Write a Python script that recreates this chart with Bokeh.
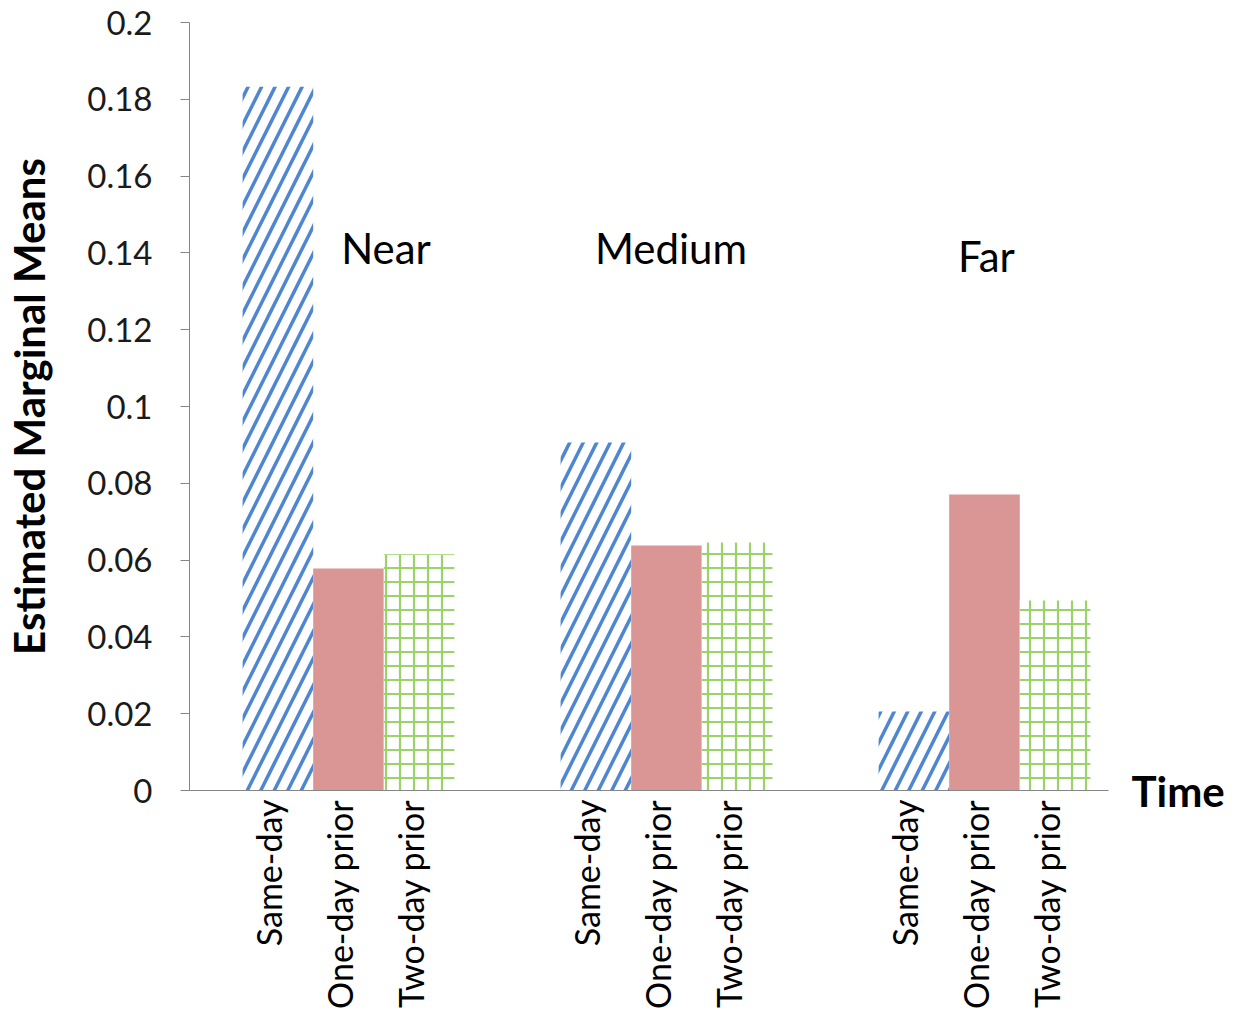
import math
from bokeh.plotting import figure
from bokeh.models import Range1d, FixedTicker, NumeralTickFormatter, Label, LinearAxis
from bokeh.embed import file_html
from bokeh.resources import INLINE

# Data
groups = ["Near", "Medium", "Far"]
times = ["Same-day", "One-day prior", "Two-day prior"]
same_day = [0.1833, 0.0906, 0.0206]
one_day_prior = [0.0578, 0.0638, 0.0771]
two_day_prior = [0.0615, 0.0646, 0.0495]
y_ticks = [0, 0.02, 0.04, 0.06, 0.08, 0.1, 0.12, 0.14, 0.16, 0.18, 0.2]

FONT = "Lato"
BAR_W = 0.222
offsets = [-BAR_W, 0.0, BAR_W]

p = figure(width=1235, height=1019, output_backend="svg", toolbar_location=None,
           x_range=Range1d(-0.5, 2.39), y_range=Range1d(0, 0.2),
           min_border_left=189, min_border_right=127, min_border_top=22,
           min_border_bottom=229)
p.outline_line_color = None
p.grid.visible = False
p.background_fill_color = "white"
p.border_fill_color = "white"

gx = list(range(len(groups)))

# Same-day: blue diagonal hatching
p.vbar(x=[g + offsets[0] for g in gx], top=same_day, width=BAR_W, bottom=0,
       fill_color="white", line_color=None,
       hatch_pattern="/", hatch_color="#4f86d2", hatch_weight=3.5, hatch_scale=27)
# One-day prior: solid rose
p.vbar(x=[g + offsets[1] for g in gx], top=one_day_prior, width=BAR_W, bottom=0,
       fill_color="#d99694", line_color=None)
# Two-day prior: green grid
p.vbar(x=[g + offsets[2] for g in gx], top=two_day_prior, width=BAR_W, bottom=0,
       fill_color="white", line_color=None,
       hatch_pattern="+", hatch_color="#9bd36a", hatch_weight=2.2, hatch_scale=14)

# Y axis
yax = p.yaxis[0]
yax.ticker = FixedTicker(ticks=y_ticks)
yax.formatter = NumeralTickFormatter(format="0.[00]")
yax.axis_line_color = "#868686"
yax.major_tick_line_color = "#868686"
yax.major_tick_out = 9
yax.major_tick_in = 0
yax.minor_tick_line_color = None
yax.major_label_text_font = FONT
yax.major_label_text_font_size = "33px"
yax.major_label_text_color = "#1a1a1a"
yax.major_label_standoff = 28
yax.axis_label = "Estimated Marginal Means"
yax.axis_label_text_font = FONT
yax.axis_label_text_font_style = "bold"
yax.axis_label_text_font_size = "42px"
yax.axis_label_text_color = "black"
yax.axis_label_standoff = 30

# X axis: one vertical label per bar (labels sit slightly left of bar centres)
label_shift = 0.028
tick_pos = [g + o - label_shift for g in gx for o in offsets]
xax = p.xaxis[0]
xax.ticker = FixedTicker(ticks=tick_pos)
xax.major_label_overrides = {t: times[i % 3] for i, t in enumerate(tick_pos)}
xax.major_label_orientation = math.pi / 2
xax.major_label_text_font = FONT
xax.major_label_text_font_size = "34px"
xax.major_label_text_color = "black"
xax.major_label_standoff = 3
xax.axis_line_color = "#868686"
xax.major_tick_line_color = None
xax.minor_tick_line_color = None

# "Time" title at the right end of the category axis, level with the baseline
time_axis = LinearAxis(ticker=FixedTicker(ticks=[0]), major_label_overrides={0: "Time"},
                       axis_line_color=None, major_tick_line_color=None,
                       minor_tick_line_color=None, major_label_standoff=17,
                       major_label_text_font=FONT, major_label_text_font_size="42px",
                       major_label_text_font_style="bold", major_label_text_color="black")
p.add_layout(time_axis, "right")

# Group names inside the plot
group_label_dx = [0.118, 0.014, 0.006]
group_label_y = [0.1414, 0.1414, 0.1393]
for g, name in enumerate(groups):
    p.add_layout(Label(x=g + group_label_dx[g], y=group_label_y[g], text=name,
                       text_font=FONT, text_font_size="42px", text_color="black",
                       text_align="center", text_baseline="middle"))

open("out.html", "w").write(file_html(p, INLINE))
